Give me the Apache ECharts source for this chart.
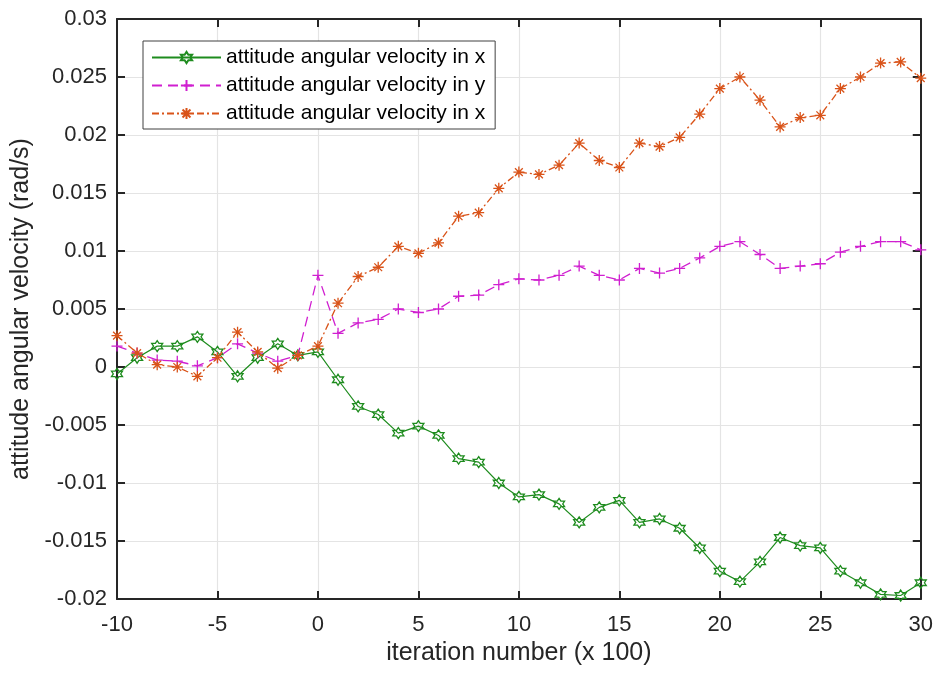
<!DOCTYPE html>
<html>
<head>
<meta charset="utf-8">
<script src="https://cdn.jsdelivr.net/npm/echarts@6/dist/echarts.min.js"></script>
<style>
  html, body { margin: 0; padding: 0; background: #fff; }
  #chart { width: 936px; height: 673px; }
</style>
</head>
<body>
<div id="chart"></div>
<script>
// Iteration number (in hundreds)
const iterations = [-10, -9, -8, -7, -6, -5, -4, -3, -2, -1, 0, 1, 2, 3, 4, 5, 6, 7, 8, 9, 10,
  11, 12, 13, 14, 15, 16, 17, 18, 19, 20, 21, 22, 23, 24, 25, 26, 27, 28, 29, 30];

// Attitude angular velocity (rad/s)
const omegaX = [-0.0006, 0.0008, 0.0018, 0.0018, 0.0026, 0.0013, -0.0008, 0.0008, 0.0020, 0.0010, 0.0013,
  -0.0011, -0.0034, -0.0041, -0.0057, -0.0051, -0.0059, -0.0079, -0.0082, -0.0100, -0.0112,
  -0.0110, -0.0118, -0.0134, -0.0121, -0.0115, -0.0134, -0.0131, -0.0139, -0.0156, -0.0176,
  -0.0185, -0.0168, -0.0147, -0.0154, -0.0156, -0.0176, -0.0186, -0.0196, -0.0197, -0.0186];

const omegaY = [0.0018, 0.0012, 0.0006, 0.0005, 0.0001, 0.0008, 0.0020, 0.0012, 0.0005, 0.0010, 0.0079,
  0.0029, 0.0038, 0.0041, 0.0050, 0.0047, 0.0050, 0.0061, 0.0062, 0.0071, 0.0076,
  0.0075, 0.0079, 0.0087, 0.0079, 0.0075, 0.0085, 0.0081, 0.0085, 0.0094, 0.0104,
  0.0108, 0.0097, 0.0085, 0.0087, 0.0089, 0.0099, 0.0104, 0.0108, 0.0108, 0.0101];

const omegaZ = [0.0027, 0.0012, 0.0002, 0.0000, -0.0008, 0.0008, 0.0030, 0.0013, -0.0001, 0.0010, 0.0018,
  0.0055, 0.0078, 0.0086, 0.0104, 0.0098, 0.0107, 0.0130, 0.0133, 0.0154, 0.0168,
  0.0166, 0.0174, 0.0193, 0.0178, 0.0172, 0.0193, 0.0190, 0.0198, 0.0218, 0.0240,
  0.0250, 0.0230, 0.0207, 0.0215, 0.0217, 0.0240, 0.0250, 0.0262, 0.0263, 0.0249];

// Internal series keys and the labels shown in the legend
const seriesKeys = ['wx', 'wy', 'wz'];
const legendLabels = {
  wx: 'attitude angular velocity in x',
  wy: 'attitude angular velocity in y',
  wz: 'attitude angular velocity in x'
};

const xTicks = [-10, -5, 0, 5, 10, 15, 20, 25, 30];
const yTicks = [-0.02, -0.015, -0.01, -0.005, 0, 0.005, 0.01, 0.015, 0.02, 0.025, 0.03];

const FONT = '"Liberation Sans", Arial, Helvetica, sans-serif';
const AXIS_COLOR = '#262626';
const GREEN = '#1e8c1e';
const MAGENTA = '#d01fd0';
const ORANGE = '#d95319';

// Marker shapes: six-pointed star outline, plus sign, asterisk
const HEXAGRAM = 'path://M0,-10 L2.887,-5 L8.66,-5 L5.774,0 L8.66,5 L2.887,5 L0,10 L-2.887,5 L-8.66,5 L-5.774,0 L-8.66,-5 L-2.887,-5 Z';
const PLUS = 'path://M-5,0 L5,0 M0,-5 L0,5';
const ASTERISK = 'path://M-5,0 L5,0 M0,-5 L0,5 M-3.54,-3.54 L3.54,3.54 M-3.54,3.54 L3.54,-3.54';

function pairs(ys) {
  return iterations.map((x, i) => [x, ys[i]]);
}

const chart = echarts.init(document.getElementById('chart'), null, { renderer: 'canvas' });

const commonAxisLine = { show: true, onZero: false, lineStyle: { color: AXIS_COLOR, width: 2 } };
const commonTick = { show: true, inside: true, length: 8, lineStyle: { color: AXIS_COLOR, width: 2 } };

chart.setOption({
  animation: false,
  backgroundColor: '#fff',
  grid: { left: 117, right: 15, top: 19, bottom: 74, containLabel: false },
  legend: {
    orient: 'vertical',
    left: 143,
    top: 41,
    padding: [6, 10, 5, 8],
    itemGap: 7,
    itemWidth: 69,
    itemHeight: 14,
    borderColor: '#404040',
    borderWidth: 1,
    backgroundColor: '#fff',
    textStyle: { fontFamily: FONT, fontSize: 21, color: '#000' },
    formatter: key => legendLabels[key],
    data: seriesKeys
  },
  xAxis: [
    {
      type: 'value',
      min: xTicks[0],
      max: xTicks[xTicks.length - 1],
      interval: 5,
      name: 'iteration number (x 100)',
      nameLocation: 'middle',
      nameGap: 32,
      nameTextStyle: { fontFamily: FONT, fontSize: 25, color: '#262626' },
      axisLine: commonAxisLine,
      axisTick: commonTick,
      axisLabel: { margin: 15, fontFamily: FONT, fontSize: 22, color: '#262626' },
      splitLine: { show: true, lineStyle: { color: '#e4e4e4', width: 1.2 } }
    },
    {
      type: 'value',
      position: 'top',
      min: xTicks[0],
      max: xTicks[xTicks.length - 1],
      interval: 5,
      axisLine: commonAxisLine,
      axisTick: commonTick,
      axisLabel: { show: false },
      splitLine: { show: false }
    }
  ],
  yAxis: [
    {
      type: 'value',
      min: yTicks[0],
      max: yTicks[yTicks.length - 1],
      interval: 0.005,
      name: 'attitude angular velocity (rad/s)',
      nameLocation: 'middle',
      nameGap: 79,
      nameTextStyle: { fontFamily: FONT, fontSize: 25, color: '#262626' },
      axisLine: commonAxisLine,
      axisTick: commonTick,
      axisLabel: {
        margin: 10,
        fontFamily: FONT,
        fontSize: 22,
        color: '#262626',
        formatter: v => String(+v.toFixed(3))
      },
      splitLine: { show: true, lineStyle: { color: '#e4e4e4', width: 1.2 } }
    },
    {
      type: 'value',
      position: 'right',
      min: yTicks[0],
      max: yTicks[yTicks.length - 1],
      interval: 0.005,
      axisLine: commonAxisLine,
      axisTick: commonTick,
      axisLabel: { show: false },
      splitLine: { show: false }
    }
  ],
  series: [
    {
      name: seriesKeys[0],
      type: 'line',
      data: pairs(omegaX),
      color: GREEN,
      symbol: HEXAGRAM,
      symbolSize: 11,
      showAllSymbol: true,
      lineStyle: { color: GREEN, width: 1.2, type: 'solid' },
      itemStyle: { color: 'rgba(255,255,255,0)', borderColor: GREEN, borderWidth: 1.3 },
      z: 3
    },
    {
      name: seriesKeys[1],
      type: 'line',
      data: pairs(omegaY),
      color: MAGENTA,
      symbol: PLUS,
      symbolSize: 11,
      showAllSymbol: true,
      lineStyle: { color: MAGENTA, width: 1.3, type: [10, 6] },
      itemStyle: { color: 'rgba(255,255,255,0)', borderColor: MAGENTA, borderWidth: 1.3 },
      z: 4
    },
    {
      name: seriesKeys[2],
      type: 'line',
      data: pairs(omegaZ),
      color: ORANGE,
      symbol: ASTERISK,
      symbolSize: 11,
      showAllSymbol: true,
      lineStyle: { color: ORANGE, width: 1.3, type: [7, 3, 2, 3] },
      itemStyle: { color: 'rgba(255,255,255,0)', borderColor: ORANGE, borderWidth: 1.3 },
      z: 5
    }
  ]
});
</script>
</body>
</html>
